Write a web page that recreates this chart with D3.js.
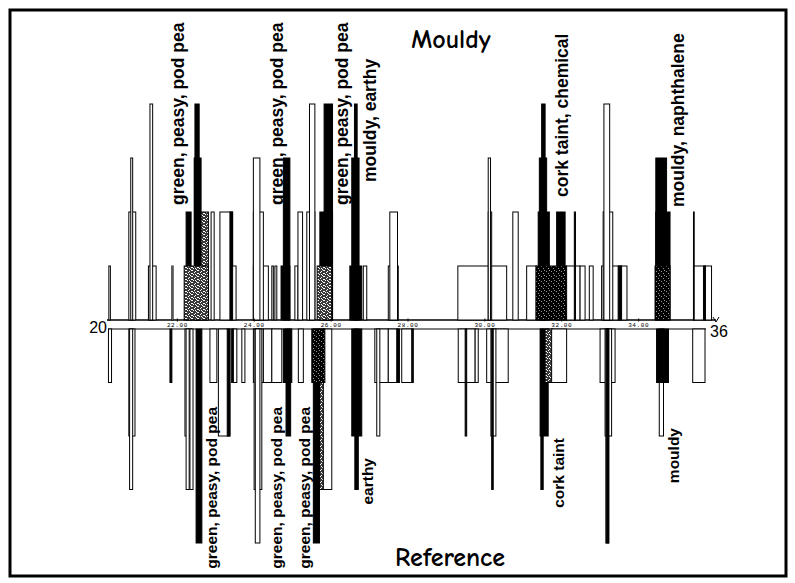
<!DOCTYPE html>
<html><head><meta charset="utf-8">
<script src="https://cdn.jsdelivr.net/npm/d3@7"></script>
<style>body{margin:0;background:#fff}</style>
</head><body><svg id="c" width="795" height="583"></svg>
<script>
// retention time [start, end, intensity level, peak class]
// class: w = plain peak, k = odour-active (black), g = stippled, d = dark stippled
const mouldyPeaks = [
 [20.23,20.27,1,"w"],[20.75,20.93,2,"w"],[20.80,20.85,3,"w"],[21.26,21.46,1,"w"],[21.30,21.37,4,"w"],
 [21.87,21.90,1,"w"],[22.24,22.37,2,"k"],[22.45,22.63,3,"k"],[22.47,22.58,4,"k"],[22.63,22.82,2,"g"],
 [22.19,22.82,1,"g"],[22.89,22.97,2,"w"],[23.12,23.45,2,"w"],[23.38,23.45,2,"k"],[23.45,23.54,1,"w"],
 [23.99,24.38,1,"w"],[23.99,24.25,2,"w"],[23.99,24.16,3,"w"],[24.47,24.51,1,"w"],[24.55,24.60,1,"w"],
 [24.71,24.94,1,"k"],[24.77,24.94,3,"k"],[25.07,25.15,1,"w"],[25.15,25.27,2,"w"],[25.38,25.59,2,"w"],
 [25.45,25.59,4,"w"],[25.72,26.05,2,"k"],[25.83,26.05,4,"k"],[25.65,26.03,1,"g"],[26.50,26.81,1,"k"],
 [26.55,26.74,3,"k"],[26.62,26.69,4,"k"],[26.85,26.94,1,"w"],[27.50,27.76,1,"w"],[27.54,27.74,2,"w"],
 [29.31,30.58,1,"w"],[30.10,30.19,2,"w"],[30.10,30.16,3,"w"],[30.74,30.88,2,"w"],[31.10,31.36,1,"w"],
 [31.40,31.69,2,"k"],[31.43,31.62,3,"k"],[31.49,31.58,4,"k"],[31.88,32.10,2,"k"],[31.34,32.14,1,"d"],
 [32.14,32.49,1,"w"],[32.34,32.37,2,"k"],[32.49,32.62,1,"w"],[32.73,32.83,1,"w"],[33.05,33.57,1,"w"],
 [33.09,33.34,2,"w"],[33.11,33.26,4,"w"],[33.48,33.57,1,"k"],[33.57,33.71,1,"w"],[34.46,34.83,2,"k"],
 [34.46,34.74,3,"k"],[34.44,34.83,1,"d"],[35.44,35.74,1,"w"],[35.74,35.91,1,"w"],[35.44,35.46,2,"w"],
 [35.70,35.75,1,"k"]
];
const referencePeaks = [
 [20.22,20.30,1,"w"],[20.75,20.91,2,"w"],[20.77,20.85,3,"w"],[21.82,21.87,1,"k"],[22.21,22.39,2,"w"],
 [22.24,22.32,3,"w"],[22.34,22.42,3,"w"],[22.50,22.65,4,"k"],[22.86,23.04,1,"w"],[23.08,23.38,2,"w"],
 [23.31,23.38,2,"k"],[23.43,23.56,1,"w"],[23.43,23.47,1,"k"],[23.69,23.77,1,"w"],[23.99,24.25,1,"w"],
 [24.01,24.21,3,"w"],[24.04,24.16,4,"w"],[24.25,24.47,1,"w"],[24.47,24.73,1,"w"],[24.77,24.99,1,"k"],
 [24.84,24.96,2,"k"],[25.16,25.29,1,"w"],[25.70,25.83,3,"g"],[25.81,26.03,3,"w"],[25.55,25.71,4,"k"],
 [25.51,25.85,1,"d"],[26.55,26.81,2,"k"],[26.63,26.72,3,"k"],[27.15,27.50,1,"w"],[27.20,27.28,2,"w"],
 [27.50,27.76,1,"w"],[27.72,27.79,1,"k"],[27.85,28.15,1,"w"],[28.11,28.14,1,"k"],[29.32,29.76,1,"w"],
 [29.50,29.54,2,"k"],[29.76,29.84,1,"w"],[30.06,30.62,1,"w"],[30.17,30.30,2,"w"],[30.19,30.23,3,"k"],
 [31.47,31.53,3,"k"],[31.45,31.66,2,"k"],[31.58,31.79,1,"g"],[31.75,32.14,1,"w"],[33.01,33.40,1,"w"],
 [33.14,33.31,2,"w"],[33.16,33.24,4,"w"],[33.18,33.23,4,"k"],[34.55,34.66,2,"w"],[34.48,34.79,1,"k"],
 [35.42,35.74,1,"w"]
];
const mouldyLabels = ["green, peasy, pod pea","green, peasy, pod pea","green, peasy, pod pea","mouldy, earthy","cork taint, chemical","mouldy, naphthalene"];
const mouldyLabelRT = [22.03,24.60,26.30,27.02,32.02,35.04];
const referenceLabels = ["green, peasy, pod pea","green, peasy, pod pea","green, peasy, pod pea","earthy","cork taint","mouldy"];
const referenceLabelRT = [22.91,24.60,25.33,26.97,31.92,34.91];
const tickValues = [22,24,26,28,30,32,34];
const tickLabels = ["22.00","24.00","26.00","28.00","30.00","32.00","34.00"];
const axisEnds = ["20","36"];
const titleTop = "Mouldy", titleBottom = "Reference";

const svg = d3.select("#c");
const defs = svg.append("defs");
const pg = defs.append("pattern").attr("id","pg").attr("width",6).attr("height",6).attr("patternUnits","userSpaceOnUse");
pg.append("rect").attr("width",6).attr("height",6).attr("fill","#3a3a3a");
[[0,0],[3,1],[5,3],[1,4],[4,5],[2,2],[5,0],[0,3],[3,4]].forEach(p=>pg.append("rect").attr("x",p[0]).attr("y",p[1]).attr("width",1).attr("height",1).attr("fill","#fff"));
const pd = defs.append("pattern").attr("id","pd").attr("width",5).attr("height",5).attr("patternUnits","userSpaceOnUse");
pd.append("rect").attr("width",5).attr("height",5).attr("fill","#000");
[[1,1],[3,3],[4,0]].forEach(p=>pd.append("rect").attr("x",p[0]).attr("y",p[1]).attr("width",1).attr("height",1).attr("fill","#999"));
const fillOf = {w:"#fff",k:"#000",g:"url(#pg)",d:"url(#pd)"};

// frame
svg.append("rect").attr("x",10).attr("y",10).attr("width",776).attr("height",566)
  .attr("fill","none").attr("stroke","#000").attr("stroke-width",3);

const x = d3.scaleLinear().domain([20,36]).range([100,715]);
const yTop = d3.scaleLinear().domain([0,4]).range([320,104]);
const yBot = d3.scaleLinear().domain([0,4]).range([329,543]);

// baselines
svg.append("line").attr("x1",107).attr("x2",716).attr("y1",yTop(0)).attr("y2",yTop(0)).attr("stroke","#000").attr("stroke-width",1.4);
svg.append("line").attr("x1",108).attr("x2",706).attr("y1",yBot(0)).attr("y2",yBot(0)).attr("stroke","#000").attr("stroke-width",1.2);

svg.append("g").selectAll("rect").data(mouldyPeaks).join("rect")
  .attr("x",d=>x(d[0])).attr("width",d=>Math.max(0.6,x(d[1])-x(d[0])))
  .attr("y",d=>yTop(d[2])).attr("height",d=>yTop(0)-yTop(d[2]))
  .attr("fill",d=>fillOf[d[3]]).attr("stroke","#000").attr("stroke-width",1);

svg.append("g").selectAll("rect").data(referencePeaks).join("rect")
  .attr("x",d=>x(d[0])).attr("width",d=>Math.max(0.6,x(d[1])-x(d[0])))
  .attr("y",yBot(0)).attr("height",d=>yBot(d[2])-yBot(0))
  .attr("fill",d=>fillOf[d[3]]).attr("stroke","#000").attr("stroke-width",1);

// axis ticks
const ax = d3.axisBottom(x).tickValues(tickValues).tickFormat((d,i)=>tickLabels[i]).tickSize(3).tickPadding(1);
const axg = svg.append("g").attr("transform",`translate(0,${yTop(0)-1.5})`).call(ax);
axg.select(".domain").remove();
axg.selectAll("text").attr("font-size",6).attr("font-family","Liberation Mono, monospace").attr("letter-spacing",0.6).attr("fill","#000");
axg.selectAll("line").attr("stroke","#000");
svg.append("path").attr("d",`M${713},${yTop(0)-3} L${716},${yTop(0)+2} L${719},${yTop(0)-3}`).attr("fill","none").attr("stroke","#000").attr("stroke-width",1);

svg.append("text").attr("x",107).attr("y",333).attr("text-anchor","end").attr("font-family","Liberation Sans, Arial, sans-serif").attr("font-size",16).text(axisEnds[0]);
svg.append("text").attr("x",710).attr("y",337).attr("text-anchor","start").attr("font-family","Liberation Sans, Arial, sans-serif").attr("font-size",16).text(axisEnds[1]);

// titles
svg.append("text").attr("x",451).attr("y",48).attr("text-anchor","middle").attr("font-family","'Comic Sans MS','Comic Neue',Lato,sans-serif").attr("font-weight","bold").attr("font-size",26).text(titleTop);
svg.append("text").attr("x",450).attr("y",566).attr("text-anchor","middle").attr("font-family","'Comic Sans MS','Comic Neue',Lato,sans-serif").attr("font-weight","bold").attr("font-size",26).text(titleBottom);

// rotated labels
const topLabelY = [205,205,205,182,197,207];
svg.append("g").selectAll("text").data(mouldyLabels).join("text")
  .attr("transform",(d,i)=>`translate(${x(mouldyLabelRT[i])},${topLabelY[i]}) rotate(-90)`)
  .attr("text-anchor","start").attr("dominant-baseline","central")
  .attr("font-family","Liberation Sans, Arial, sans-serif").attr("font-weight","bold").attr("font-size",17.5)
  .text(d=>d);
const botLabelY = [407,407,407,458,438,428];
svg.append("g").selectAll("text").data(referenceLabels).join("text")
  .attr("transform",(d,i)=>`translate(${x(referenceLabelRT[i])},${botLabelY[i]}) rotate(-90)`)
  .attr("text-anchor","end").attr("dominant-baseline","central")
  .attr("font-family","Liberation Sans, Arial, sans-serif").attr("font-weight","bold").attr("font-size",15.5)
  .text(d=>d);
</script>
</body></html>
